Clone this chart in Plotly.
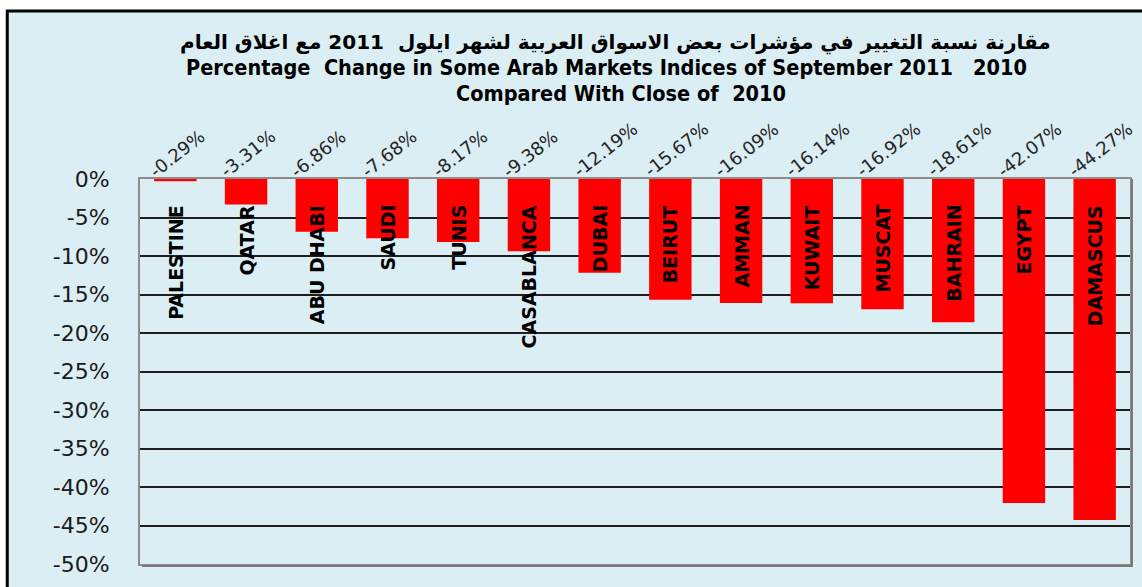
import plotly.graph_objects as go

categories = ["PALESTINE", "QATAR", "ABU DHABI", "SAUDI", "TUNIS", "CASABLANCA", "DUBAI",
              "BEIRUT", "AMMAN", "KUWAIT", "MUSCAT", "BAHRAIN", "EGYPT", "DAMASCUS"]
values = [-0.29, -3.31, -6.86, -7.68, -8.17, -9.38, -12.19,
          -15.67, -16.09, -16.14, -16.92, -18.61, -42.07, -44.27]
y_ticks = [0, -5, -10, -15, -20, -25, -30, -35, -40, -45, -50]
title_lines = [
    "مقارنة نسبة التغيير في مؤشرات بعض الاسواق العربية لشهر ايلول  2011 مع اغلاق العام",
    "Percentage  Change in Some Arab Markets Indices of September 2011   2010",
    "Compared With Close of  2010",
]

BG = "#DBEEF4"
W, H = 1142, 587
L, R, T, B = 140, 10, 179, 14
pw, ph = W - L - R, H - T - B

def px(x):
    return (x - L) / pw

def py(y):
    return (H - B - y) / ph

fig = go.Figure()
fig.add_trace(go.Bar(x=categories, y=values, marker=dict(color="#FF0000", line=dict(width=0)),
                     hoverinfo="x+y"))

ann = []
for c, v in zip(categories, values):
    ann.append(dict(x=c, y=0, xref="x", yref="y", text=f"{v:.2f}%", showarrow=False,
                    textangle=-38, xanchor="left", yanchor="bottom", xshift=-33, yshift=-5,
                    font=dict(family="DejaVu Sans", size=18, color="#262626")))
    ann.append(dict(x=c, y=0, xref="x", yref="y", text=f"<b>{c}</b>", showarrow=False,
                    textangle=-90, xanchor="center", yanchor="top", yshift=-24,
                    font=dict(family="DejaVu Sans", size=19, color="#000000")))

title_font = "Liberation Sans Narrow, DejaVu Sans Condensed, Arial Narrow, DejaVu Sans"
for i, (line, xpix, ypix) in enumerate(zip(title_lines, [616, 607, 622], [39, 65, 91])):
    ann.append(dict(x=px(xpix), y=py(ypix), xref="paper", yref="paper", text=f"<b>{line}</b>",
                    showarrow=False, xanchor="center", yanchor="middle",
                    font=dict(family=("DejaVu Sans" if i == 0 else title_font),
                              size=(20 if i == 0 else 21.5), color="#000000")))

fig.update_layout(
    width=W, height=H,
    margin=dict(l=L, r=R, t=T, b=B, pad=0),
    paper_bgcolor="#FFFFFF",
    plot_bgcolor=BG,
    showlegend=False,
    bargap=0.4,
    annotations=ann,
    shapes=[dict(type="rect", xref="paper", yref="paper", layer="below",
                 x0=px(7), x1=px(1160), y0=py(600), y1=py(7),
                 fillcolor=BG, line=dict(color="#000000", width=3)),
            dict(type="path", xref="paper", yref="paper", layer="above",
                 path=f"M {px(1134)} {py(179)} L {px(1134)} {py(575)} L {px(142)} {py(575)}",
                 line=dict(color="#7A7A7A", width=2))],
    xaxis=dict(showticklabels=False, showgrid=False, zeroline=False,
               showline=True, mirror=True, linecolor="#8C8C8C", linewidth=2,
               range=[-0.5, len(categories) - 0.5]),
    yaxis=dict(range=[-50, 0], tickvals=y_ticks, ticktext=[f"{t}%" for t in y_ticks],
               showgrid=True, gridcolor="#1E1E1E", gridwidth=1.5, zeroline=False,
               showline=True, mirror=True, linecolor="#8C8C8C", linewidth=2,
               ticklabelstandoff=24,
               tickfont=dict(family="DejaVu Sans", size=22, color="#1A1A1A")),
)

fig.write_html("out.html", config={"displayModeBar": False},
               post_script="document.body.style.margin='0px';document.body.style.overflow='hidden';")
